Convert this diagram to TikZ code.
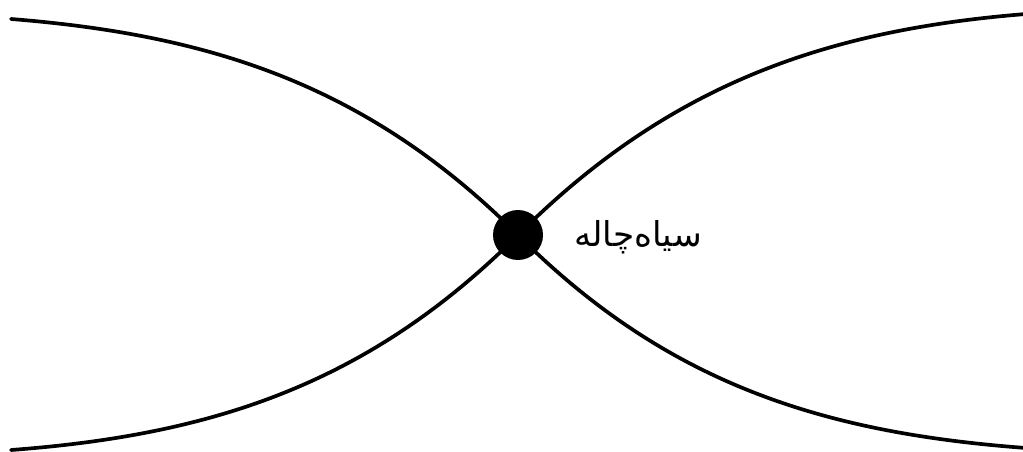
\documentclass[tikz,border=0pt]{standalone}
\usepackage{fontspec}
\newfontfamily\arabicfont[Script=Arabic]{DejaVu Sans}
\TeXXeTstate=1
\begin{document}
\begin{tikzpicture}[x=0.02cm,y=-0.02cm,
  worldline/.style={line width=2.1pt,line cap=round},
  hole/.style={circle,fill=black,minimum size=1cm,inner sep=0pt},
  lbl/.style={font=\arabicfont\fontsize{19.5}{22}\selectfont,inner sep=0pt}]
\useasboundingbox (0,0) rectangle (1023,452);
\node[hole] (bh) at (518,235) {};
\node[lbl] (name) at (638,237) {\beginR سیاه‌چاله\endR};
\coordinate (tl) at (11,19);
\coordinate (bl) at (11,450);
\coordinate (tr) at (1026,14);
\coordinate (br) at (1026,448);
\draw[worldline] (tl) .. controls (211,35) and (368,85) .. (bh.center)
  .. controls (668,385) and (825,433) .. (br);
\draw[worldline] (bl) .. controls (211,435) and (368,385) .. (bh.center)
  .. controls (668,85) and (825,30) .. (tr);
\end{tikzpicture}
\end{document}
